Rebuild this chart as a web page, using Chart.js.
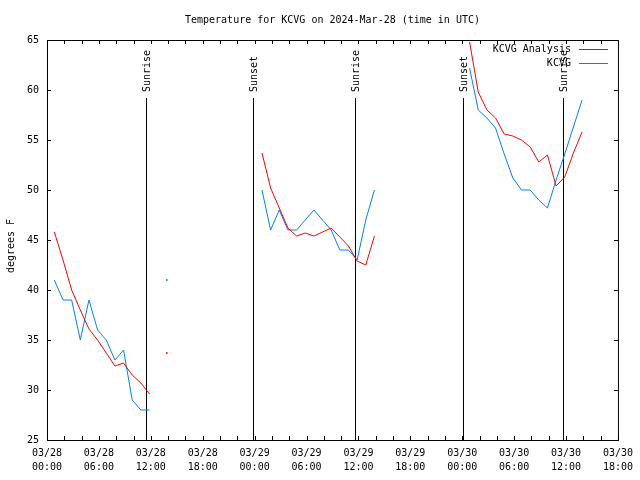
<!DOCTYPE html>
<html>
<head>
<meta charset="utf-8">
<title>KCVG temperature</title>
<script src="https://cdn.jsdelivr.net/npm/chart.js@4/dist/chart.umd.min.js"></script>
<style>
  html,body{margin:0;padding:0;background:#fff;}
  canvas{display:block;}
</style>
</head>
<body>
<canvas id="chart" width="640" height="480"></canvas>
<script>
// hours since 03/28 00:00 UTC (obs at :51 past the hour), nulls = gaps
const hours = [0.85,1.85,2.85,3.85,4.85,5.85,6.85,7.85,8.85,9.85,10.85,11.85,
  12.85,13.85,14.85,
  24.85,25.85,26.85,27.85,28.85,29.85,30.85,31.85,32.85,33.85,34.85,35.85,36.85,37.85,
  38.85,
  48.85,49.85,50.85,51.85,52.85,53.85,54.85,55.85,56.85,57.85,58.85,59.85,60.85,61.85];
const analysis = [45.8,43.0,40.0,38.0,36.1,35.0,33.7,32.4,32.7,31.5,30.7,29.6,
  null,33.7,null,
  53.7,50.2,48.2,46.2,45.4,45.7,45.4,45.8,46.2,45.3,44.4,42.9,42.5,45.4,
  null,
  64.8,59.8,58.0,57.2,55.6,55.4,55.0,54.3,52.8,53.5,50.4,51.3,53.7,55.8];
const observed = [41,39,39,35,39,36,35,33,34,29,28,28,
  null,41,null,
  50,46,48,46,46,47,48,47,46,44,44,43,47,50,
  null,
  62.2,58.0,57.2,56.2,53.6,51.2,50,50,49,48.2,51,53.6,56.3,59];
const seriesNames = ['KCVG Analysis','KCVG'];
const seriesColors = ['#ff0000','#0080ff'];
const sunTimes = [11.45,23.87,35.55,48.05,59.6];
const sunLabels = ['Sunrise','Sunset','Sunrise','Sunset','Sunrise'];
const dayLabels = ['03/28','03/29','03/30','03/31'];
const titleText = 'Temperature for KCVG on 2024-Mar-28 (time in UTC)';
const yTitle = 'degrees F';

const FONT = '"DejaVu Sans Mono", monospace';

function pts(vals){ return hours.map((h,i)=>({x:h, y:vals[i]})); }
function loneRadius(ctx){
  const d = ctx.dataset.data, i = ctx.dataIndex;
  if(d[i].y==null) return 0;
  const prev = i>0 ? d[i-1].y : null, next = i<d.length-1 ? d[i+1].y : null;
  return (prev==null && next==null) ? 0.9 : 0;
}

const frame = {
  id:'frame',
  beforeDatasetsDraw(chart){
    const {ctx, chartArea:a, scales:{x}} = chart;
    ctx.save();
    ctx.strokeStyle='#000'; ctx.lineWidth=1;
    ctx.fillStyle='#000'; ctx.font='10px '+FONT;
    sunTimes.forEach((t,i)=>{
      const px = Math.round(x.getPixelForValue(t))+0.5;
      ctx.beginPath(); ctx.moveTo(px, a.top+58); ctx.lineTo(px, a.bottom); ctx.stroke();
      ctx.save();
      ctx.translate(px+1, a.top+52);
      ctx.rotate(-Math.PI/2);
      ctx.textAlign='left'; ctx.textBaseline='middle';
      ctx.fillText(sunLabels[i], 0, 0);
      ctx.restore();
    });
    ctx.restore();
  },
  afterDraw(chart){
    const {ctx, chartArea:a, scales:{x,y}} = chart;
    ctx.save();
    ctx.strokeStyle='#000'; ctx.lineWidth=1;
    ctx.strokeRect(a.left+0.5, a.top+0.5, a.right-a.left, a.bottom-a.top);
    const tl = 4;
    ctx.beginPath();
    x.ticks.forEach(t=>{
      const px = Math.round(x.getPixelForValue(t.value))+0.5;
      ctx.moveTo(px, a.bottom); ctx.lineTo(px, a.bottom-tl);
      ctx.moveTo(px, a.top); ctx.lineTo(px, a.top+tl);
    });
    y.ticks.forEach(t=>{
      const py = Math.round(y.getPixelForValue(t.value))+0.5;
      ctx.moveTo(a.left, py); ctx.lineTo(a.left+tl, py);
      ctx.moveTo(a.right, py); ctx.lineTo(a.right-tl, py);
    });
    ctx.stroke();

    ctx.fillStyle='#000';
    ctx.font='10px '+FONT;
    ctx.textAlign='center'; ctx.textBaseline='middle';
    ctx.fillText(titleText, (a.left+a.right)/2, 20.5);

    ctx.save();
    ctx.translate(11, 246);
    ctx.rotate(-Math.PI/2);
    ctx.fillText(yTitle, 0, 0);
    ctx.restore();

    // key, top right
    seriesNames.forEach((n,i)=>{
      const ly = a.top + 9 + i*14;
      ctx.textAlign='right'; ctx.fillStyle='#000';
      ctx.fillText(n, a.right-47, ly);
      ctx.strokeStyle=seriesColors[i];
      ctx.beginPath(); ctx.moveTo(a.right-39, ly+0.5); ctx.lineTo(a.right-10, ly+0.5); ctx.stroke();
    });
    ctx.restore();
  }
};

new Chart(document.getElementById('chart').getContext('2d'), {
  type:'line',
  data:{ datasets:[
    { label:seriesNames[0], data:pts(analysis), borderColor:seriesColors[0], backgroundColor:seriesColors[0],
      borderWidth:1, pointRadius:loneRadius, pointBorderWidth:0, tension:0, spanGaps:false },
    { label:seriesNames[1], data:pts(observed), borderColor:seriesColors[1], backgroundColor:seriesColors[1],
      borderWidth:1, pointRadius:loneRadius, pointBorderWidth:0, tension:0, spanGaps:false }
  ]},
  options:{
    responsive:false, animation:false, devicePixelRatio:1,
    layout:{ padding:{ top:40, right:20, left:0, bottom:0 } },
    scales:{
      x:{ type:'linear', min:0, max:66,
        grid:{ display:false, drawTicks:false }, border:{ display:false },
        ticks:{ stepSize:2, autoSkip:false, maxRotation:0, minRotation:0, padding:7, color:'#000',
          font:{ family:FONT, size:10, lineHeight:1.35 },
          callback:v=> v%6===0 ? [dayLabels[Math.floor(v/24)], String(v%24).padStart(2,'0')+':00'] : '' },
        afterFit:s=>{ s.height=40; } },
      y:{ min:25, max:65,
        grid:{ display:false, drawTicks:false }, border:{ display:false },
        ticks:{ stepSize:5, padding:8, color:'#000', font:{ family:FONT, size:10 } },
        afterFit:s=>{ s.width=47; } }
    },
    plugins:{ legend:{ display:false }, tooltip:{ enabled:false }, title:{ display:false } }
  },
  plugins:[frame]
});
</script>
</body>
</html>
